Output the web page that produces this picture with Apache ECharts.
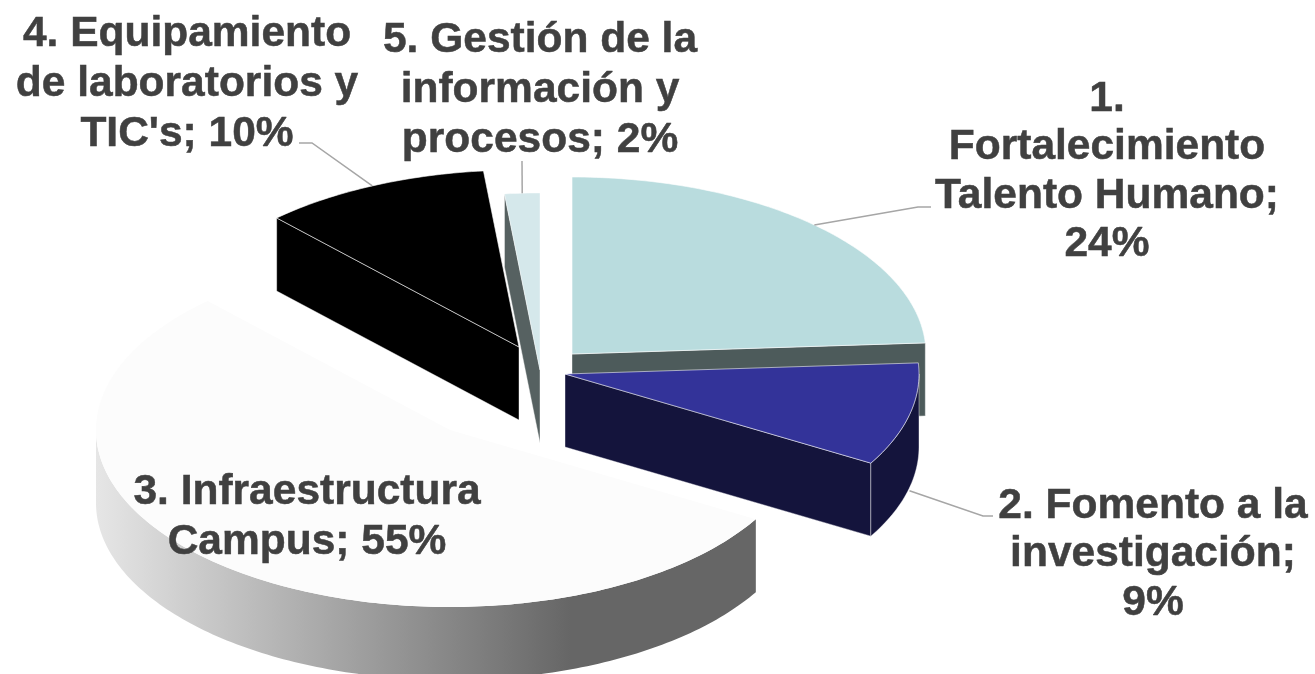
<!DOCTYPE html>
<html>
<head>
<meta charset="utf-8">
<style>html,body{margin:0;padding:0;background:#fff;overflow:hidden}#c{width:1315px;height:674px}</style>
<script src="https://cdn.jsdelivr.net/npm/echarts@6/dist/echarts.min.js"></script>
</head>
<body>
<div id="c"></div>
<script>
var categories = ['1.\nFortalecimiento\nTalento Humano', '2. Fomento a la\ninvestigación', '3. Infraestructura\nCampus', "4. Equipamiento\nde laboratorios y\nTIC's", '5. Gestión de la\ninformación y\nprocesos'];
var shares = [24, 9.4, 54.6, 10.4, 1.6];
var separators = [';\n', ';\n', '; ', '; ', '; '];

var RX = 354, RY = 177, DEPTH = 73;
var centers = [[572, 354], [565, 374], [450, 430], [519, 347], [540, 370]];
var topColors = ['#b9dcde', '#333399', '#fcfcfc', '#000000', '#d5e8eb'];
var sideColors = ['#4d5b5b', '#14143c', null, '#000000', '#566161'];
var topStroke = ['rgba(255,255,255,0.6)', 'rgba(255,255,255,0.55)', null, 'rgba(255,255,255,0.6)', 'rgba(255,255,255,0.4)'];
var labelPos = [[1107, 99], [1153, 506], [307, 492], [187, 34], [540, 40]];
var lineHeights = [48.5, 48.5, 50, 50, 50];
var leaderBends = [[[918, 207], [931, 207]], [[983, 516], [993, 516]], null, [[312, 143], [299, 143]], [[522, 161]]];
var leaderFront = [false, true, false, false, false];
var rad = Math.PI / 180;

function pt(c, a, r, dy) {
  return [c[0] + r * RX * Math.sin(a * rad), c[1] - r * RY * Math.cos(a * rad) + (dy || 0)];
}
function arc(c, a0, a1, dy) {
  var pts = [], n = Math.max(2, Math.ceil(Math.abs(a1 - a0)));
  for (var i = 0; i <= n; i++) pts.push(pt(c, a0 + (a1 - a0) * i / n, 1, dy));
  return pts;
}
function poly(points, fill, stroke, z) {
  return { type: 'polygon', shape: { points: points }, style: { fill: fill, stroke: stroke || null, lineWidth: stroke ? 1 : 0 }, z2: z };
}
var total = shares.reduce(function (s, v) { return s + v; }, 0);

function renderItem(params, api) {
  var i = params.dataIndex, value = api.value(0), before = 0;
  for (var k = 0; k < i; k++) before += shares[k];
  var a0 = before / total * 360, a1 = (before + value) / total * 360, c = centers[i];
  var kids = [];
  var sideStroke = 'rgba(255,255,255,0.4)';
  var sideFill = sideColors[i] || new echarts.graphic.LinearGradient(0, 0, 1, 0, [
    { offset: 0, color: '#e6e6e6' }, { offset: 0.72, color: '#666666' }, { offset: 1, color: '#666666' }
  ]);
  // radial face at the start of the slice, seen from the front
  if (a0 > 180 && a0 < 360) {
    var r0 = pt(c, a0, 1);
    kids.push(poly([c, r0, [r0[0], r0[1] + DEPTH], [c[0], c[1] + DEPTH]], sideFill, sideStroke, 1));
  }
  // radial face at the end of the slice
  if (a1 > 0 && a1 < 180) {
    var r1 = pt(c, a1, 1);
    kids.push(poly([c, r1, [r1[0], r1[1] + DEPTH], [c[0], c[1] + DEPTH]], sideFill, sideStroke, 1));
  }
  // outer rim
  var v0 = Math.max(a0, 90), v1 = Math.min(a1, 270);
  if (v1 > v0) {
    var rim = arc(c, v0, v1, 0).concat(arc(c, v1, v0, DEPTH));
    kids.push(poly(rim, sideFill, sideColors[i] ? sideStroke : null, 2));
  }
  // top face
  kids.push(poly([c].concat(arc(c, a0, a1, 0)), topColors[i], topStroke[i], 3));

  // leader line
  if (leaderBends[i]) {
    var mid = (a0 + a1) / 2;
    var anchor = pt(c, mid, 1, leaderFront[i] ? DEPTH + 3 : 0);
    kids.push({ type: 'polyline', shape: { points: [anchor].concat(leaderBends[i]) },
      style: { fill: null, stroke: '#a6a6a6', lineWidth: 1.5 }, z2: 4 });
  }
  // label
  var text = categories[i] + separators[i] + Math.round(value) + '%';
  text.split('\n').forEach(function (line, n) {
    kids.push({ type: 'text', z2: 5, style: {
      text: line, x: labelPos[i][0], y: labelPos[i][1] + n * lineHeights[i],
      fill: '#404040', stroke: '#404040', lineWidth: 0.5,
      font: 'bold 42.5px "Liberation Sans", Arial, sans-serif',
      align: 'center', verticalAlign: 'middle'
    } });
  });
  return { type: 'group', children: kids };
}

var chart = echarts.init(document.getElementById('c'), null, { renderer: 'canvas' });
chart.setOption({
  animation: false,
  backgroundColor: '#ffffff',
  series: [{
    type: 'custom',
    coordinateSystem: 'none',
    silent: true,
    renderItem: renderItem,
    data: shares.map(function (v) { return [v]; })
  }]
});
</script>
</body>
</html>
